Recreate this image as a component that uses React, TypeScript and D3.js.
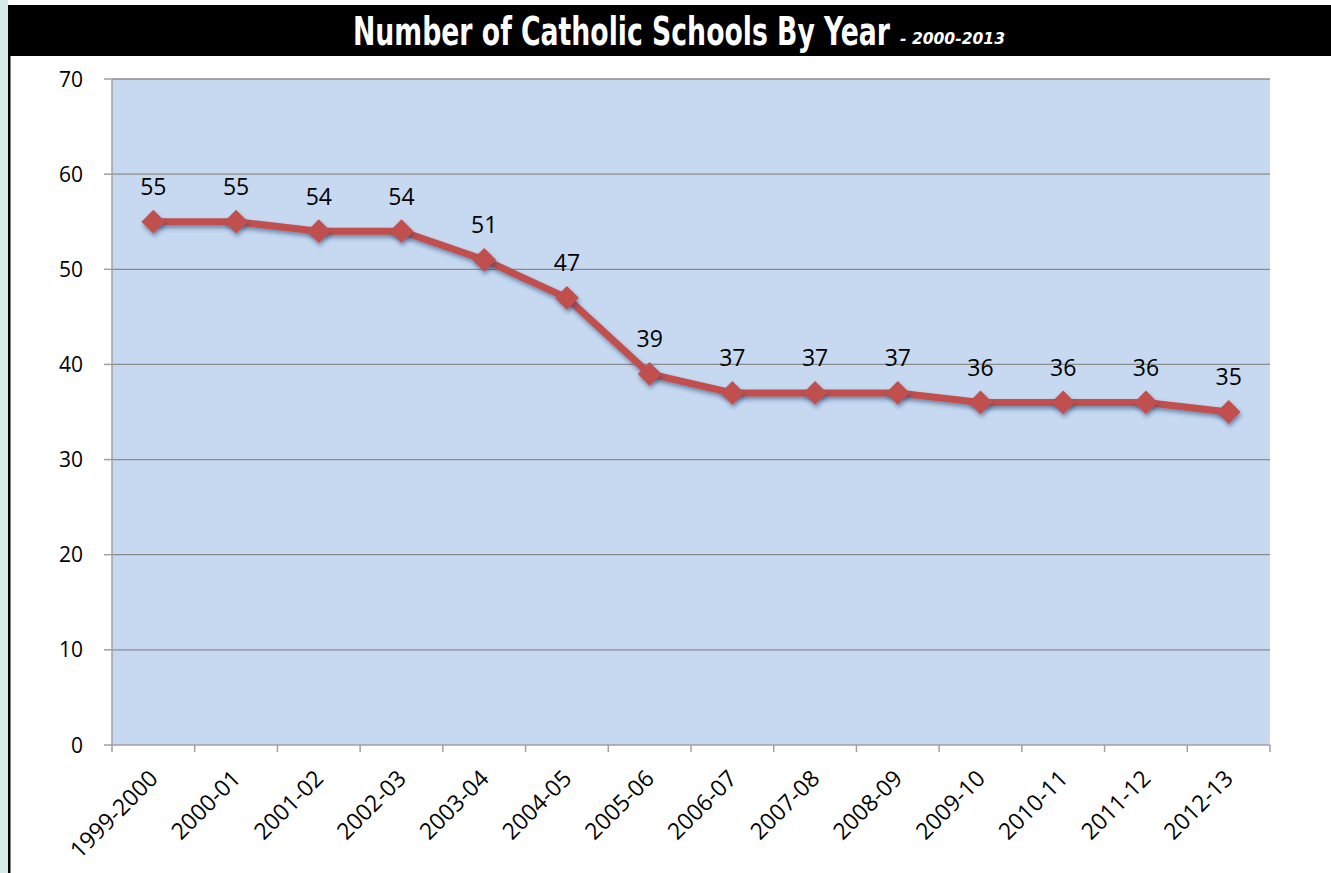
import React from "react";
import * as d3 from "d3";

const categories = ["1999-2000","2000-01","2001-02","2002-03","2003-04","2004-05","2005-06","2006-07","2007-08","2008-09","2009-10","2010-11","2011-12","2012-13"];
const values = [55,55,54,54,51,47,39,37,37,37,36,36,36,35];
const yTicks = [0,10,20,30,40,50,60,70];

const W = 1331, H = 873;
const plot = { left: 112, right: 1270, top: 79, bottom: 745 };

export default function App() {
  const x = d3.scaleBand<string>().domain(categories).range([plot.left, plot.right]).padding(0);
  const y = d3.scaleLinear().domain([0, 70]).range([plot.bottom, plot.top]);
  const cx = (c: string) => (x(c) as number) + x.bandwidth() / 2;
  const line = d3.line<number>().x((_, i) => cx(categories[i])).y(v => y(v));
  const font = "'Open Sans', sans-serif";
  const boundaries = d3.range(categories.length + 1).map(i => plot.left + i * x.bandwidth());
  const diamond = d3.symbol().type(d3.symbolDiamond2 ?? d3.symbolDiamond).size(360)();
  const titleFont = "'DejaVu Sans Condensed', 'DejaVu Sans', sans-serif";

  return (
    <svg width={W} height={H} style={{ position: "absolute", left: 0, top: 0, display: "block" }}>
      <defs>
        <filter id="sh" x="-50%" y="-50%" width="200%" height="200%">
          <feGaussianBlur in="SourceAlpha" stdDeviation="2.2" />
          <feOffset dx="1" dy="3" result="b" />
          <feFlood floodColor="#1f3a66" floodOpacity="0.5" />
          <feComposite in2="b" operator="in" />
          <feMerge><feMergeNode /><feMergeNode in="SourceGraphic" /></feMerge>
        </filter>
      </defs>
      <rect x={0} y={0} width={W} height={H} fill="#ffffff" />
      <rect x={0} y={0} width={8} height={H} fill="#d3ebeb" />
      <rect x={8} y={5} width={W - 8} height={51} fill="#000000" />
      <rect x={8} y={56} width={2.5} height={H - 56} fill="#000000" />
      <text transform="translate(353,45) scale(1,1.45)" fill="#fff" fontFamily={titleFont} fontWeight="bold" fontSize={27} textLength={537} lengthAdjust="spacingAndGlyphs">Number of Catholic Schools By Year</text>
      <text transform="translate(900,44)" fill="#fff" fontFamily={titleFont} fontWeight="bold" fontStyle="italic" fontSize={16} textLength={105} lengthAdjust="spacingAndGlyphs">- 2000-2013</text>

      <rect x={plot.left} y={plot.top} width={plot.right - plot.left} height={plot.bottom - plot.top} fill="#c6d9f1" />
      {yTicks.map(t => (
        <g key={t}>
          {t > 0 && <line x1={plot.left} x2={plot.right} y1={y(t)} y2={y(t)} stroke="#8c8c8c" strokeWidth={1.3} />}
          <line x1={104} x2={plot.left} y1={y(t)} y2={y(t)} stroke="#a0a0a0" strokeWidth={1.5} />
          <text x={83} y={y(t)} dy="0.36em" textAnchor="end" fontFamily={font} fontSize={21} fill="#000">{t}</text>
        </g>
      ))}
      <line x1={plot.left} x2={plot.left} y1={plot.top} y2={plot.bottom} stroke="#a0a0a0" strokeWidth={1.5} />
      <line x1={plot.left} x2={plot.right} y1={plot.bottom} y2={plot.bottom} stroke="#a0a0a0" strokeWidth={1.5} />
      {boundaries.map((b, i) => (
        <line key={i} x1={b} x2={b} y1={plot.bottom} y2={plot.bottom + 7} stroke="#a0a0a0" strokeWidth={1.5} />
      ))}
      {categories.map(c => (
        <text key={c} transform={`translate(${cx(c) + 6},${780}) rotate(-45)`} textAnchor="end" fontFamily={font} fontSize={23} fill="#000">{c}</text>
      ))}

      <path d={line(values) || ""} fill="none" stroke="#c0504d" strokeWidth={7} strokeLinejoin="round" filter="url(#sh)" />
      {values.map((v, i) => (
        <path key={i} d={diamond || ""} transform={`translate(${cx(categories[i])},${y(v)})`} fill="#c0504d" filter="url(#sh)" />
      ))}
      {values.map((v, i) => (
        <text key={"l" + i} x={cx(categories[i])} y={y(v) - 35} dy="0.36em" textAnchor="middle" fontFamily={font} fontSize={23} fill="#000">{v}</text>
      ))}
    </svg>
  );
}
